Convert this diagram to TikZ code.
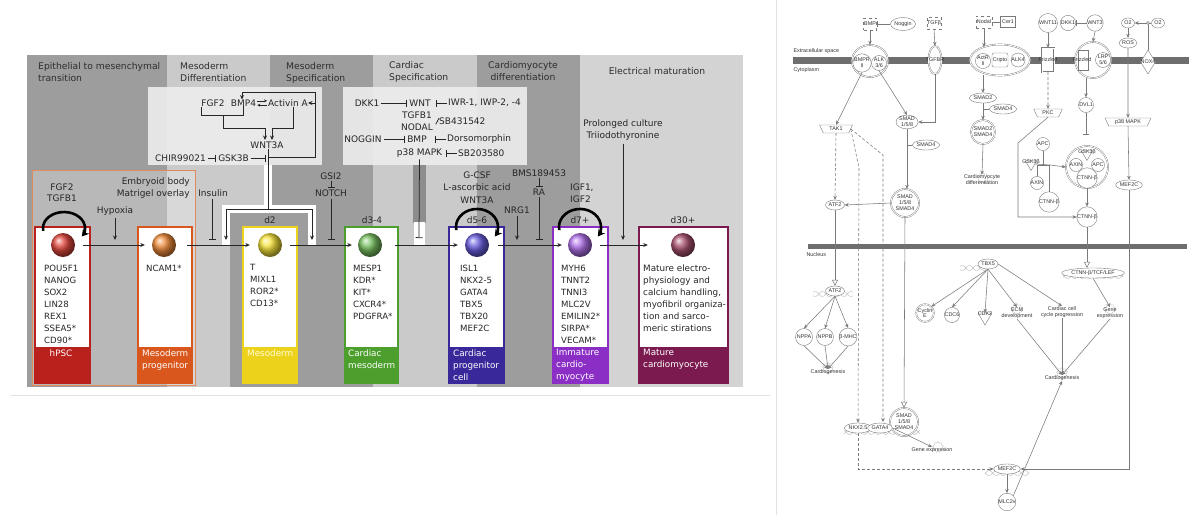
\documentclass[tikz,border=0pt]{standalone}
\usepackage{fontspec}
\setmainfont{DejaVu Sans}
\newfontfamily\ipafont{Liberation Sans}
\usetikzlibrary{arrows.meta,shapes.geometric,shapes.misc}
\definecolor{bandD}{HTML}{9D9D9D}
\definecolor{bandL}{HTML}{CACACA}
\definecolor{bandM}{HTML}{D3D3D3}
\definecolor{boxW}{HTML}{EDEDED}
\definecolor{cR}{HTML}{B8211C}
\definecolor{cO}{HTML}{D9561C}
\definecolor{cY}{HTML}{EDD21C}
\definecolor{cG}{HTML}{4C9F2C}
\definecolor{cB}{HTML}{38289A}
\definecolor{cP}{HTML}{8A2EC6}
\definecolor{cM}{HTML}{7A1A4E}
\definecolor{sR}{HTML}{E0463C}
\definecolor{sO}{HTML}{EE8A3A}
\definecolor{sY}{HTML}{F6E23A}
\definecolor{sG}{HTML}{78C060}
\definecolor{sB}{HTML}{6A5EE0}
\definecolor{sP}{HTML}{B070EA}
\definecolor{sM}{HTML}{A8506E}
\definecolor{orbox}{HTML}{E08A60}
\definecolor{ipaL}{HTML}{7A7A7A}
\definecolor{memb}{HTML}{6E6E6E}
\definecolor{sepc}{HTML}{E2E2E2}
\newcommand\dnahelix[3]{%
  \draw[gray!60, line width=.35pt, domain=-#3:#3, samples=30, smooth] plot ({#1+\x},{#2+2.6*sin(\x*25)});
  \draw[gray!60, line width=.35pt, domain=-#3:#3, samples=30, smooth] plot ({#1+\x},{#2-2.6*sin(\x*25)});
}
\newcommand\cellbox[3]{%
  \fill[white] (#1,227) rectangle (#2,347);
  \fill[#3] (#1,347) rectangle (#2,383);
  \draw[#3, line width=1.3pt] (#1,227) rectangle (#2,383);
}
\begin{document}
\begin{tikzpicture}[x=1pt,y=-1pt,
 hdr/.style={font=\fontsize{9.2}{12}\selectfont, inner sep=0pt, align=left, anchor=north west, text=black!82},
 txt/.style={font=\fontsize{9}{12}\selectfont, inner sep=0pt, align=center, text=black!85},
 lst/.style={font=\fontsize{8.6}{12}\selectfont, inner sep=0pt, align=left, anchor=north west, text=black!85},
 lbl/.style={font=\fontsize{8.8}{12}\selectfont, inner sep=0pt, align=left, anchor=north west, text=white},
 ln/.style={line width=0.75pt, draw=black!85},
 arr/.style={ln, -{Stealth[length=4.5pt,width=4pt]}},
 sarr/.style={ln, line width=0.6pt, -{Stealth[length=3pt,width=3pt]}},
 inh/.style={ln, -{Bar[width=7pt]}},
 selfloop/.style={line width=2.6pt, draw=black, -{Stealth[length=7pt,width=8pt]}},
 sph/.style={circle, minimum size=24pt, inner sep=0pt, ball color=#1},
 rpt/.style={font=\ipafont\fontsize{5.4}{5.9}\selectfont, inner sep=0.3pt, text=black!80, align=center},
 gnode/.style={rpt, draw=ipaL, fill=white, line width=.4pt},
 gel/.style={gnode, ellipse, minimum width=18pt, minimum height=10pt},
 gci/.style={gnode, circle, minimum size=15pt},
 gsq/.style={gnode, rectangle, dashed, minimum width=13pt, minimum height=12pt},
 gcx/.style={gnode, double=white, double distance=0.8pt},
 gkin/.style={gnode, trapezium, trapezium angle=65, shape border rotate=180, minimum width=18pt, minimum height=8pt},
 gtri/.style={gnode, regular polygon, regular polygon sides=3, shape border rotate=180, minimum size=13pt, inner sep=0pt},
 gear/.style={star, star points=9, star point ratio=1.35, draw=gray!55, line width=.35pt, minimum size=11pt, inner sep=0pt},
 lnr/.style={draw=ipaL, line width=.55pt},
 ar/.style={lnr, -{Stealth[length=4pt,width=3.5pt]}},
 aro/.style={lnr, -{Triangle[open, length=6pt, width=6pt]}},
 ard/.style={ar, dash pattern=on 3pt off 2pt},
 inr/.style={lnr, -{Bar[width=6pt]}}
]
\useasboundingbox (0,0) rectangle (1200,515);
\fill[white] (0,0) rectangle (1200,515);
% separators
\draw[sepc, line width=1pt] (776,0) -- (776,515);
\draw[sepc, line width=1pt] (10,395) -- (770,395);

% ---------------- LEFT PANEL ----------------
\fill[bandD] (27,55) rectangle (167,387);
\fill[bandL] (167,55) rectangle (270,387);
\fill[bandD] (270,55) rectangle (373,387);
\fill[bandL] (373,55) rectangle (477,387);
\fill[bandD] (477,55) rectangle (580,387);
\fill[bandM] (580,55) rectangle (743,387);
\fill[boxW, opacity=.9] (148,87) rectangle (322,165);
\fill[boxW, opacity=.9] (343,87) rectangle (527,165);
\draw[orbox, line width=1pt, fill=white, fill opacity=.28] (32,170) rectangle (195,385);
\fill[bandD] (230,213) rectangle (307,387);
% halos
\draw[white, line width=8pt] (268,165) -- (268,209) -- (226,209) -- (226,246);
\draw[white, line width=8pt] (268,209) -- (312,209) -- (312,246);
\draw[bandD!90!black, line width=13pt] (419,165) -- (419,223);
\draw[white, line width=11pt] (419,222) -- (419,246);

% header labels
\node[hdr] (h1) at (38,62.3) {Epithelial to mesenchymal\\transition};
\node[hdr] (h2) at (180,62.3) {Mesoderm\\Differentiation};
\node[hdr] (h3) at (286,62.3) {Mesoderm\\Specification};
\node[hdr] (h4) at (389,61.3) {Cardiac\\Specification};
\node[hdr, anchor=north, align=center] (h5) at (523,61.3) {Cardiomyocyte\\differentiation};
\node[hdr, anchor=north, align=center] (h6) at (657,67.3) {Electrical maturation};

% box A
\node[txt] (fgf2a) at (213,103) {FGF2};
\node[txt] (bmp4) at (243.5,103) {BMP4};
\node[txt] (actA) at (288,103) {Activin A};
\node[txt] (wnt3a) at (267,145) {WNT3A};
\node[txt] (chir) at (180.5,158) {CHIR99021};
\node[txt] (gsk3b) at (233.5,158) {GSK3B};
\draw[ln] (fgf2a.south west) |- (bmp4.south |- 0,115) -- (bmp4.south);
\draw[arr] (223,115) |- (265,128) -- (265,140);
\draw[arr] ([xshift=5pt]actA.south) |- (272,128) -- (272,140);
\draw[sarr] ([yshift=2.2pt,xshift=1pt]bmp4.east) -- ([yshift=2.2pt,xshift=-1pt]actA.west);
\draw[sarr] ([yshift=-2.2pt,xshift=-1pt]actA.west) -- ([yshift=-2.2pt,xshift=1pt]bmp4.east);
\draw[ln] ([xshift=1pt]wnt3a.south) -- (268,209);
\draw[arr] (268,157) -- (315,157) -- (315,92) -- (242,92) -- ([xshift=-1.5pt]bmp4.north);
\draw[arr] (315,103) -- (actA.east);
\draw[inh] ([xshift=2pt]chir.east) -- ([xshift=-2pt]gsk3b.west);
\draw[inh] ([xshift=2pt]gsk3b.east) -- (266,158);

% box B
\node[txt] (dkk1) at (367,103) {DKK1};
\node[txt] (wnt) at (420,103) {WNT};
\node[txt, anchor=west] (iwr) at (448,103) {IWR-1, IWP-2, -4};
\node[txt] (tgfnod) at (417,121) {TGFB1\\NODAL};
\node[txt, anchor=west] (sb43) at (439,121.5) {SB431542};
\node[txt] (noggin) at (363,139) {NOGGIN};
\node[txt] (bmp) at (417,139) {BMP};
\node[txt, anchor=west] (dors) at (447,139) {Dorsomorphin};
\node[txt] (p38) at (419.5,153) {p38 MAPK};
\node[txt, anchor=west] (sb20) at (458,153) {SB203580};
\draw[inh] ([xshift=2pt]dkk1.east) -- ([xshift=-2pt]wnt.west);
\draw[inh] ([xshift=-1pt]iwr.west) -- ([xshift=5pt]wnt.east);
\draw[inh] ([xshift=-1pt]sb43.west) -- ([xshift=4pt]tgfnod.east);
\draw[inh] ([xshift=2pt]noggin.east) -- ([xshift=-2pt]bmp.west);
\draw[inh] ([xshift=-1pt]dors.west) -- ([xshift=8pt]bmp.east);
\draw[inh] ([xshift=-1pt]sb20.west) -- ([xshift=4pt]p38.east);
\coordinate (tB) at (419,238);
\draw[inh] ([yshift=-2pt]p38.south) -- (tB);

% WNT3A split
\draw[arr] (226,209) -- (312,209) -- (312,240);
\draw[arr] (226,209) -- (226,240);

% other annotations
\node[txt, anchor=north] (fgft) at (62,183.5) {FGF2\\[-1pt]TGFB1};
\node[txt, anchor=north] (hyp) at (115,206.5) {Hypoxia};
\node[txt, anchor=north east, align=right] (emb) at (190,177.5) {Embryoid body\\Matrigel overlay};
\node[txt, anchor=north] (ins) at (213,189.5) {Insulin};
\node[txt, anchor=north] (gsi2) at (331,172.5) {GSI2};
\node[txt, anchor=north] (notch) at (331,189.5) {NOTCH};
\node[txt, anchor=north] (gcsf) at (477,171.5) {G-CSF\\[0.5pt]L-ascorbic acid\\[0.5pt]WNT3A};
\node[txt, anchor=north] (nrg1) at (517,206.5) {NRG1};
\node[txt, anchor=north] (bms) at (539,169.5) {BMS189453};
\node[txt, anchor=north] (ra) at (539,188.5) {RA};
\node[txt, anchor=north west, align=left] (igf) at (570,183.5) {IGF1,\\IGF2};
\node[txt, anchor=north] (prol) at (623,119.5) {Prolonged culture\\Triiodothyronine};
\node[txt, anchor=north] (d2) at (270,216.5) {d2};
\node[txt, anchor=north] (d34) at (372,216.5) {d3-4};
\node[txt, anchor=north] (d56) at (477,216.5) {d5-6};
\node[txt, anchor=north] (d7) at (580,216.5) {d7+};
\node[txt, anchor=north] (d30) at (683,216.5) {d30+};
\draw[arr] (hyp.south) ++(0,2) -- (115,240);
\draw[inh] ([yshift=-2pt]ins.south -| 212,0) -- (212,240);
\draw[inh] ([yshift=-1.5pt]gsi2.south) -- ([yshift=1.5pt]notch.north);
\draw[inh] ([yshift=-2pt]notch.south) -- (331,240);
\draw[arr] ([yshift=-2pt]nrg1.south) -- (517,240);
\draw[inh] ([yshift=-1.5pt]bms.south) -- ([yshift=1.5pt]ra.north);
\draw[inh] ([yshift=-2pt]ra.south) -- (539,240);
\draw[arr] ([yshift=-3pt]prol.south) -- (623,240);

% cell boxes
\cellbox{35}{90}{cR}
\cellbox{138}{192}{cO}
\cellbox{243}{297}{cY}
\cellbox{345}{398}{cG}
\cellbox{449}{504}{cB}
\cellbox{553}{608}{cP}
\cellbox{639}{728}{cM}
\node[sph=sR] (s1) at (63,245) {};
\node[sph=sO] (s2) at (164,245) {};
\node[sph=sY] (s3) at (270,245) {};
\node[sph=sG] (s4) at (370,245) {};
\node[sph=sB] (s5) at (477,245) {};
\node[sph=sP] (s6) at (580,245) {};
\node[sph=sM] (s7) at (683,245) {};
\draw[arr] ([xshift=8pt]s1.east) -- ([xshift=-7pt]s2.west);
\draw[arr] ([xshift=11pt]s2.east) -- ([xshift=-8pt]s3.west);
\draw[arr] ([xshift=8pt]s3.east) -- ([xshift=-6pt]s4.west);
\draw[arr] ([xshift=13pt]s4.east) -- ([xshift=-7pt]s5.west);
\draw[arr] ([xshift=9pt]s5.east) -- ([xshift=-6pt]s6.west);
\draw[arr] ([xshift=8pt]s6.east) -- ([xshift=-23pt]s7.west);
% self loops
\draw[selfloop] (43.3,230.8) arc[start angle=170, end angle=392, x radius=21, y radius=16];
\draw[selfloop] (456.3,230.1) arc[start angle=170, end angle=392, x radius=21, y radius=18];
\draw[selfloop] (559.3,230.1) arc[start angle=170, end angle=392, x radius=21, y radius=18];

% lists
\node[lst] (m1) at (44,264.5) {POU5F1\\NANOG\\SOX2\\LIN28\\REX1\\SSEA5*\\CD90*};
\node[lst] (m2) at (146,264.5) {NCAM1*};
\node[lst] (m3) at (250,264.5) {T\\MIXL1\\ROR2*\\CD13*};
\node[lst] (m4) at (353,264.5) {MESP1\\KDR*\\KIT*\\CXCR4*\\PDGFRA*};
\node[lst] (m5) at (460,264.5) {ISL1\\NKX2-5\\GATA4\\TBX5\\TBX20\\MEF2C};
\node[lst] (m6) at (561,264.5) {MYH6\\TNNT2\\TNNI3\\MLC2V\\EMILIN2*\\SIRPA*\\VECAM*};
\node[lst, font=\fontsize{8.8}{12}\selectfont] (m7) at (643,264.5) {Mature electro-\\physiology and\\calcium handling,\\myofibril organiza-\\tion and sarco-\\meric stirations};
% labels
\node[lbl, anchor=north, align=center] (l1) at (61,349.3) {hPSC};
\node[lbl] (l2) at (142,349.3) {Mesoderm\\progenitor};
\node[lbl, text=yellow!15] (l3) at (247,349.3) {Mesoderm};
\node[lbl] (l4) at (348,349.3) {Cardiac\\mesoderm};
\node[lbl] (l5) at (453,349.3) {Cardiac\\progenitor\\cell};
\node[lbl] (l6) at (556,349.3) {Immature\\cardio-\\myocyte};
\node[lbl] (l7) at (643,349.3) {Mature\\cardiomyocyte};

% ---------------- RIGHT PANEL ----------------
\fill[memb] (793,57) rectangle (1189,64);
\fill[memb] (808,244) rectangle (1187,249);
\node[rpt, anchor=west] (ecs) at (793,51) {Extracellular space};
\node[rpt, anchor=west] (cyt) at (793,70.5) {Cytoplasm};
\node[rpt, anchor=west] (nuc) at (806,254.5) {Nucleus};

% helices
\dnahelix{833}{294}{20}
\dnahelix{973}{268}{13}
\dnahelix{1093}{276}{30}
\dnahelix{882}{432}{38}
\dnahelix{1007}{473}{22}
% function gears
\node[gear] (gr1) at (828,368) {};
\node[gear] (gr2) at (1062,373) {};
\node[gear] (gr3) at (938,447) {};
\node[gear] (gr4) at (1017,309) {};
\node[gear] (gr5) at (1110,309) {};
\node[gear] (gr6) at (983,178) {};

% top ligands
\node[gsq] (bmpr0) at (870,24) {BMP};
\node[gel, minimum width=20pt, minimum height=13pt] (nog) at (903,24) {Noggin};
\node[gsq] (tgfb) at (934,23) {TGFβ};
\node[gsq, minimum width=16pt] (nodal) at (984,22) {Nodal};
\node[gnode, minimum width=15pt, minimum height=11pt] (cer1) at (1008,22) {Cer1};
\node[gci] (wnt11) at (1048,23) {WNT11};
\node[gci] (dkk1r) at (1068,23) {DKK1};
\node[gci] (wnt3) at (1095,23) {WNT3};
\node[gel, minimum width=13pt] (o2a) at (1128,23) {O2};
\node[gel, minimum width=13pt] (o2b) at (1158,23) {O2};
\coordinate (o2j) at (1148,23);
\node[gel, minimum width=14pt] (ros) at (1128,43) {ROS};
\draw[inr] (nog.west) -- (bmpr0.east);
\draw[inr] (nodal.east) -- (cer1.west);
\draw[inr] (wnt3.west) -- (dkk1r.east);
\draw[ar] (o2b.west) -- (o2a.east);
\draw[ar] (o2a.south) -- (ros.north);

% receptors
\node[gcx, ellipse, minimum width=36pt, minimum height=32pt] (bmprc) at (870,61) {};
\node[gci, minimum size=15pt, inner sep=0pt] (bmpr) at (862,63) {BMPR\\II};
\node[gci, minimum size=15pt, inner sep=0pt] (alk36) at (879,63) {ALK\\3/6};
\node[gcx, ellipse, minimum width=13pt, minimum height=28pt] (tgfbr) at (935,60) {};
\node[rpt] (tgfbrl) at (935,60) {TGFBR};
\node[gcx, ellipse, minimum width=60pt, minimum height=31pt] (actc) at (1000,60) {};
\node[gci, minimum size=14pt, inner sep=0pt] (actr) at (983,61) {ActR\\II};
\node[gnode, rounded corners=2pt, minimum width=16pt, minimum height=14pt, inner sep=0pt] (cripto) at (1000,60) {Cripto};
\node[gci, minimum size=14pt, inner sep=0pt] (alk4) at (1018,60) {ALK4};
\node[gcx, rectangle, minimum width=12pt, minimum height=24pt] (frz1) at (1048,60) {};
\node[rpt] (frz1l) at (1048,60) {Frizzled};
\node[gcx, circle, minimum size=36pt] (wntc) at (1093,60) {};
\node[gnode, minimum width=10pt, minimum height=20pt] (frz2) at (1083,60) {};
\node[gci, minimum size=15pt, inner sep=0pt] (lrp) at (1103,60) {LRP\\5/6};
\node[rpt] (frz2l) at (1082,60) {Frizzled};
\node[gnode, diamond, minimum width=15pt, minimum height=24pt, inner sep=0pt] (nox) at (1148,62) {};
\node[rpt] (noxl) at (1148,62) {NOX4};
\draw[lnr] (o2j) ++(0,1.6) -- (nox.north);
\draw[lnr, fill=white] (o2j) circle (1.6);
\draw[ar] (bmpr0.south) -- (bmprc.north);
\draw[ar] (tgfb.south) -- (tgfbr.north);
\draw[ar] (nodal.south) -- (nodal.south |- 0,47);
\draw[ar] (wnt11.south) -- (frz1.north);
\draw[ar] (wnt3.south) -- (wntc.north);

% cytoplasm
\node[gkin] (p38r) at (1128,122) {p38 MAPK};
\node[gel] (mefr) at (1129,185) {MEF2C};
\node[gkin] (tak1) at (836,129) {TAK1};
\node[gel, minimum width=19pt, minimum height=13pt, inner sep=0pt] (smad1) at (907,122) {SMAD\\1/5/8};
\node[gel] (smad4a) at (926,145) {SMAD4};
\node[gcx, circle, minimum size=28pt] (smadc) at (905,203) {};
\node[rpt] (smadcl) at (905,203) {SMAD\\1/5/8\\SMAD4};
\node[gel] (atf2c) at (835,205) {ATF2};
\node[gel] (smad2) at (983,98) {SMAD2};
\node[gel] (smad4b) at (1003,109) {SMAD4};
\node[gcx, circle, minimum size=24pt] (smad24) at (983,132) {};
\node[rpt] (smad24l) at (983,132) {SMAD2\\SMAD4};
\node[rpt] (cmd) at (982,180) {Cardiomyocyte\\differentiation};
\node[gkin] (pkc) at (1048,113) {PKC};
\node[gci] (dvl1) at (1086,105) {DVL1};
\node[gcx, circle, minimum size=42pt] (destr) at (1087,167) {};
\node[gtri] (gsk3a) at (1087,154) {};
\node[rpt] (gsk3al) at (1087,152) {GSK3β};
\node[gci, minimum size=13pt, inner sep=0pt] (axina) at (1076,165) {AXIN};
\node[gci, minimum size=13pt, inner sep=0pt] (apca) at (1098,165) {APC};
\node[gci, minimum size=13pt, inner sep=0pt] (ctnna) at (1087,178) {CTNN-β};
\node[gci, minimum size=13pt, inner sep=0pt] (apcb) at (1043,144) {APC};
\node[gtri] (gskb) at (1031,164) {};
\node[rpt] (gskbl) at (1031,162.5) {GSK3β};
\node[gci, minimum size=13pt, inner sep=0pt] (axinb) at (1037,183) {AXIN};
\node[gci, inner sep=0pt] (ctnnb) at (1049,202) {CTNN-β};
\coordinate (jn) at (1050,165);
\node[gci, inner sep=0pt] (bctn) at (1087,217) {CTNN-β};

\draw[ar] (ros.south) -- (p38r.north);
\draw[ar] (p38r.south) -- (mefr.north);
\draw[ar] (bmpr.south) -- (tak1.north);
\draw[ar] (alk36.south) -- (smad1.north);
\draw[ar] (tgfbr.south) |- (smad1.east);
\draw[ar] (smad1.south) -- (smad1.south |- smadc.north);
\draw[lnr] (smad4a.west) -- (smad1.south |- smad4a.west);
\draw[ar] (smadc.west) -- (atf2c.east);
\draw[ard] (tak1.south) -- (atf2c.north);
\draw[ar] (smad2.north |- 0,75) -- (smad2.north);
\draw[ar] (smad2.south) -- (smad24.north);
\draw[lnr] (smad4b.west) -- (smad2.south |- smad4b.west);
\draw[ar] (smad24.south) -- (cmd.north);
\draw[ard] (frz1.south) -- (pkc.north);
\draw[ar] (dvl1.north |- wntc.south) -- (dvl1.north);
\draw[inr] (dvl1.south) -- (dvl1.south |- 0,135);
\draw[lnr] (apcb.south) |- (jn);
\draw[lnr] (gskb.east) -- (jn);
\draw[lnr] (axinb.north) |- (jn);
\draw[lnr] (ctnnb.north) -- (ctnnb.north |- jn);
\draw[ar] (jn) -- (destr.west);
\draw[ar] (destr.south) -- (bctn.north);
\draw[ar] (pkc.south) -- (1018,143) -- (1018,217) -- (bctn.west);

% nucleus
\node[gel] (atf2n) at (835,291) {ATF2};
\node[gci, minimum size=17pt, inner sep=0pt] (nppa) at (804,337) {NPPA};
\node[gci, minimum size=17pt, inner sep=0pt] (nppb) at (825,337) {NPPB};
\node[gci, minimum size=17pt, inner sep=0pt] (bmhc) at (848,337) {β-MHC};
\node[rpt] (cg1) at (828,372) {Cardiogenesis};
\node[gel] (tbx5) at (988,264) {TBX5};
\node[gci, double=white, double distance=.7pt, minimum size=16pt, inner sep=0pt] (cyce) at (925,313) {Cyclin\\E};
\node[gci, inner sep=0pt] (cdc6) at (952,315) {CDC6};
\node[gtri, minimum size=16pt] (cdk2) at (985,317) {};
\node[rpt] (cdk2l) at (985,314) {CDK2};
\node[rpt] (ecm) at (1017,313) {ECM\\development};
\node[rpt] (ccp) at (1062,312) {Cardiac cell\\cycle progression};
\node[gel, inner sep=0.5pt] (tcf) at (1093,273) {CTNN-β/TCF/LEF};
\node[rpt] (gex2) at (1110,313) {Gene\\expression};
\node[rpt] (cg2) at (1062,378) {Cardiogenesis};
\node[gcx, circle, minimum size=28pt] (smadcb) at (904,422) {};
\node[rpt] (smadcbl) at (904,422) {SMAD\\1/5/8\\SMAD4};
\node[gel] (nkx) at (858,428) {NKX2.5};
\node[gel] (gata4) at (880,428) {GATA4};
\node[rpt] (gexb) at (932,450) {Gene expression};
\node[gel] (mefb) at (1007,469) {MEF2C};
\node[gci, minimum size=17pt, inner sep=0pt] (mlc) at (1007,502) {MLC2v};

\draw[aro] (atf2c.south) -- (atf2n.north);
\draw[ar] (atf2n.south) -- (nppa.north);
\draw[ar] (atf2n.south) -- (nppb.north);
\draw[ar] (atf2n.south) -- (bmhc.north);
\draw[ar] (nppa.south) -- (cg1.north);
\draw[ar] (nppb.south) -- (cg1.north);
\draw[ar] (bmhc.south) -- (cg1.north);
\draw[ar] (tbx5.south) -- (cyce.north east);
\draw[ar] (tbx5.south) -- (cdc6.north);
\draw[ar] (tbx5.south) -- (cdk2.north);
\draw[ar] (tbx5.south) -- (ecm.north);
\draw[ar] (tbx5.east) -- (ccp.north);
\draw[aro] (bctn.south) -- (bctn.south |- tcf.north);
\draw[ar] (tcf.south) -- (gex2.north);
\draw[ar] (ecm.south) -- (cg2.north);
\draw[ar] (ccp.south) -- (cg2.north);
\draw[ar] (gex2.south) -- (cg2.north);
\draw[aro] (smadc.south) -- (smadcb.north);
\draw[ard] (tak1.east) -- (859,168) -- (nkx.north);
\draw[ard] (tak1.east) -- (883,155) -- (883,422);
\draw[ar] (gata4.east) -- (gexb.north);
\draw[ard] (nkx.south) |- (mefb.west);
\draw[ar] (mefr.south) |- (mefb.east);
\draw[ar] (mefb.south) -- (mlc.north);
\draw[ar] (mlc.north east) -- (cg2.south);
\end{tikzpicture}
\end{document}
